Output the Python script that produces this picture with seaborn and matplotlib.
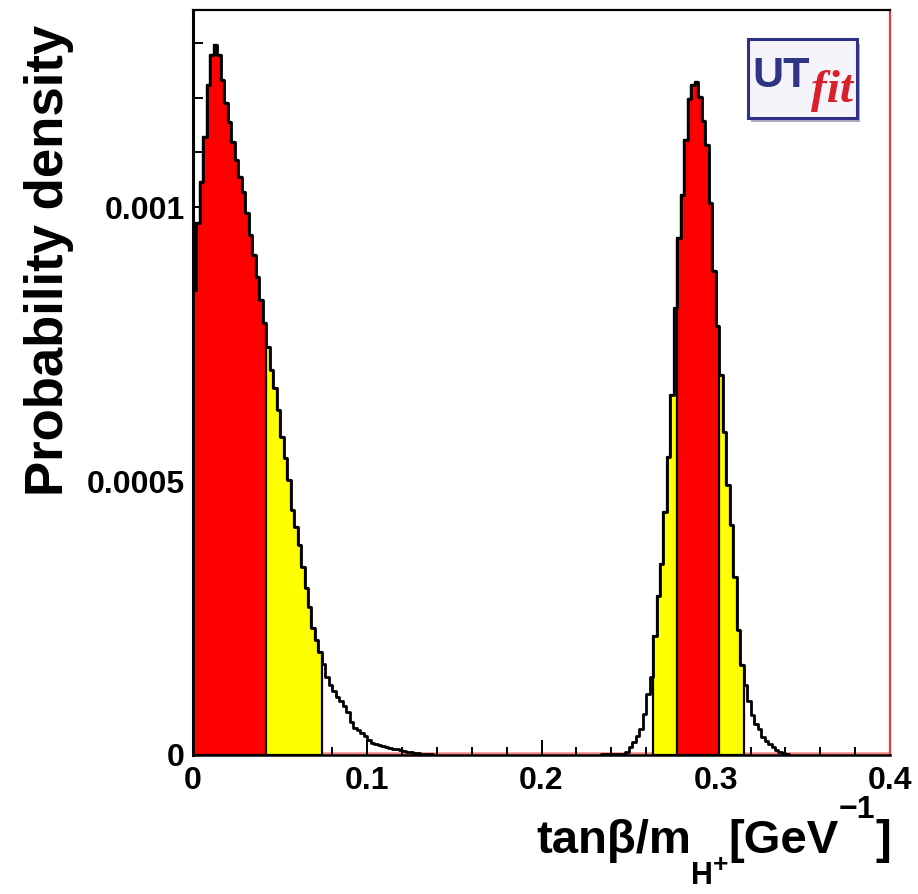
import numpy as np
import pandas as pd
import matplotlib
matplotlib.use("Agg")
import matplotlib.pyplot as plt
from matplotlib.patches import Rectangle
from matplotlib.ticker import MultipleLocator, FuncFormatter
import seaborn as sns

# ---------------------------------------------------------------------------
# Posterior of tan(beta)/m_H+ : 200 bins on [0, 0.4]
# ---------------------------------------------------------------------------
x_min, x_max, n_bins = 0.0, 0.4, 200

# density in units of 1e-4 per bin, low-value solution (bins 0..68)
low_start = 0
low_density = [
    8.49, 9.71, 10.46, 11.28, 12.23, 12.77, 12.96, 12.77, 12.32, 11.90,
    11.55, 11.19, 10.86, 10.55, 10.27, 9.89, 9.49, 9.12, 8.72, 8.30,
    7.88, 7.45, 7.03, 6.70, 6.30, 5.80, 5.42, 5.02, 4.47, 4.16,
    3.83, 3.43, 3.05, 2.70, 2.32, 2.10, 1.88, 1.66, 1.42, 1.28,
    1.17, 1.06, 0.99, 0.89, 0.79, 0.60, 0.49, 0.46, 0.40, 0.35,
    0.27, 0.22, 0.20, 0.18, 0.16, 0.15, 0.13, 0.11, 0.11, 0.09,
    0.07, 0.06, 0.06, 0.04, 0.04, 0.02, 0.02, 0.02, 0.01,
]

# density in units of 1e-4 per bin, high-value solution (bins 117..170)
high_start = 117
high_density = [
    0.01, 0.01, 0.01, 0.01, 0.01, 0.01, 0.01,
    0.06, 0.15, 0.24, 0.35, 0.47, 0.75, 1.11, 1.42, 2.17, 2.90,
    3.49, 4.43, 5.44, 6.57, 8.16, 9.43, 10.22, 11.22, 11.97, 12.24,
    12.28, 12.01, 11.57, 11.13, 10.07, 8.83, 7.83, 6.93, 5.89, 4.93,
    4.20, 3.25, 2.28, 1.64, 1.28, 0.99, 0.73, 0.57, 0.47, 0.33,
    0.26, 0.20, 0.15, 0.09, 0.06, 0.04, 0.02,
]

# credible regions as inclusive bin-index ranges
region_95 = [(0, 36), (132, 157)]
region_68 = [(0, 20), (139, 150)]

y_ticks = [0.0, 0.0005, 0.001]
x_ticks = [0.0, 0.1, 0.2, 0.3, 0.4]

y_title = "Probability density"
# x title pieces: (text, font size, baseline shift in pixels)
x_title_parts = [
    ("tanβ/m", 34, 0),
    ("H", 22, -31),
    ("+", 19, -19),
    ("[GeV", 34, 0),
    ("\u22121", 23, 35),
    ("]", 34, 0),
]

# ---------------------------------------------------------------------------
edges = np.linspace(x_min, x_max, n_bins + 1)
centers = 0.5 * (edges[:-1] + edges[1:])

rows = []
for start, dens in [(low_start, low_density), (high_start, high_density)]:
    for k, d in enumerate(dens):
        rows.append({"bin": start + k, "x": centers[start + k], "density": d * 1e-4})
df = pd.DataFrame(rows)

sns.set_style("ticks")
plt.rcParams["font.family"] = ["Liberation Sans", "DejaVu Sans"]
plt.rcParams["font.weight"] = "bold"
for key in ["text.color", "axes.labelcolor", "xtick.color", "ytick.color",
            "xtick.labelcolor", "ytick.labelcolor"]:
    plt.rcParams[key] = "black"

W, H = 918, 894
fig = plt.figure(figsize=(W / 100, H / 100), dpi=100)
ax = fig.add_axes([193 / W, 139 / H, 697 / W, 745 / H])


def hist_range(lo, hi, **kws):
    sub = df[(df["bin"] >= lo) & (df["bin"] <= hi)]
    sns.histplot(
        data=sub, x="x", weights="density",
        bins=hi - lo + 1, binrange=(float(edges[lo]), float(edges[hi + 1])),
        element="step", ax=ax, **kws,
    )


for lo, hi in region_95:
    hist_range(lo, hi, fill=True, alpha=1, facecolor="#ffff00",
               edgecolor="black", linewidth=1.6, zorder=1)
for lo, hi in region_68:
    hist_range(lo, hi, fill=True, alpha=1, facecolor="#ff0000",
               edgecolor="black", linewidth=1.6, zorder=1.2)

# full posterior outline
for start, dens in [(low_start, low_density), (high_start, high_density)]:
    hist_range(start, start + len(dens) - 1, fill=False, color="black",
               linewidth=2.0, zorder=3)

# faint red baseline of the filled histogram
ax.axhline(0, color="#ff8a8a", lw=4, zorder=0.5)

ax.set_xlim(x_min, x_max)
ax.set_ylim(0, 0.00136)
ax.set_xlabel("")
ax.set_ylabel("")

ax.xaxis.set_major_locator(plt.FixedLocator(x_ticks))
ax.xaxis.set_minor_locator(MultipleLocator(0.02))
ax.yaxis.set_major_locator(plt.FixedLocator(y_ticks))
ax.yaxis.set_minor_locator(MultipleLocator(0.0001))
fmt = FuncFormatter(lambda v, p: "%g" % v)
ax.xaxis.set_major_formatter(fmt)
ax.yaxis.set_major_formatter(fmt)

ax.tick_params(axis="both", which="both", direction="in", width=1.4,
               top=False, right=False, labelsize=23, colors="black")
ax.tick_params(axis="y", which="major", length=16, pad=6)
ax.tick_params(axis="y", which="minor", length=7.5)
ax.tick_params(axis="x", which="major", length=11, pad=8)
ax.tick_params(axis="x", which="minor", length=6)
for lab in ax.get_xticklabels() + ax.get_yticklabels():
    lab.set_fontweight("bold")

for side in ["left", "bottom", "top"]:
    ax.spines[side].set_color("black")
ax.spines["left"].set_linewidth(2.2)
ax.spines["bottom"].set_linewidth(1.8)
ax.spines["top"].set_linewidth(1.6)
ax.spines["right"].set_color("#e83a3a")
ax.spines["right"].set_linewidth(1.6)
for s in ax.spines.values():
    s.set_zorder(4)

# y title, right-aligned at the top of the axis
fig.text(63 / W, (H - 25) / H, y_title, rotation=90, rotation_mode="anchor",
         ha="right", va="baseline", fontsize=38, fontweight="bold")

# x title, right-aligned at the end of the axis, built piece by piece
renderer = fig.canvas.get_renderer()
widths = []
for txt, size, _ in x_title_parts:
    t = fig.text(0, 0, txt, fontsize=size, fontweight="bold")
    widths.append(t.get_window_extent(renderer).width)
    t.remove()
x_px = 891 - sum(widths)
base_px = H - 853
for (txt, size, dy), w in zip(x_title_parts, widths):
    fig.text(x_px / W, (base_px + dy) / H, txt, fontsize=size,
             fontweight="bold", ha="left", va="baseline")
    x_px += w

# UTfit logo box
ax.add_patch(Rectangle((0.800, 0.849), 0.157, 0.106, transform=ax.transAxes,
                       facecolor="#5a5a7a", edgecolor="none", alpha=0.5, zorder=5))
ax.add_patch(Rectangle((0.796, 0.855), 0.157, 0.106, transform=ax.transAxes,
                       facecolor="#f6f4fb", edgecolor="#2e3187", lw=2.2, zorder=6))
ax.text(0.802, 0.896, "UT", transform=ax.transAxes, ha="left", va="baseline",
        fontsize=31, fontweight="bold", color="#2e3585", zorder=7)
ax.text(0.886, 0.876, "fit", transform=ax.transAxes, ha="left", va="baseline",
        fontsize=34, fontweight="bold", fontstyle="italic",
        family=["Liberation Serif", "DejaVu Serif"], color="#d9202a", zorder=7)

fig.savefig("out.png", dpi=100, facecolor="white")
